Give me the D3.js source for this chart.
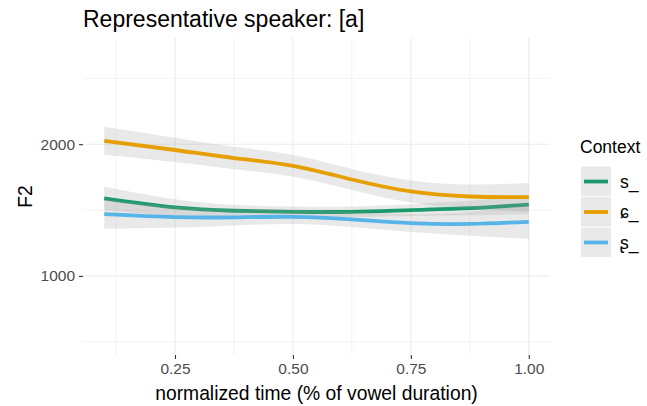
<!DOCTYPE html>
<html lang="en">
	<head>
		<meta charset="utf-8">
		<title>Representative speaker: [a]</title>
		<script type="text/javascript" src="https://d3js.org/d3.v7.min.js"></script>
		<style type="text/css">
			body { margin: 0; background: #fff; }
			text { font-family: "Liberation Sans", Arial, sans-serif; }
		</style>
	</head>
	<body>
		<script type="text/javascript">

			// normalized time points of the smoothed curves
			var times = [0.1, 0.25, 0.375, 0.5, 0.625, 0.75, 0.875, 1.0];

			// F2 of the smooth line per context
			var sVals     = [1589, 1520, 1495, 1487, 1487, 1500, 1515, 1542];
			var ccVals    = [2026, 1956, 1895, 1836, 1732, 1641, 1603, 1598];
			var retroVals = [1470, 1447, 1445, 1449, 1429, 1401, 1395, 1411];

			// half width of the confidence band
			var sSe     = [88, 62, 45, 40, 40, 45, 55, 72];
			var ccSe    = [106, 92, 85, 82, 80, 84, 92, 108];
			var retroSe = [112, 80, 62, 55, 58, 68, 90, 130];

			var contexts = ["s_", "ɕ_", "ʂ_"];
			var colors = ["#1B9B6C", "#E69F00", "#56B4E9"];

			var xTicks = [0.25, 0.5, 0.75, 1.0];
			var xMinor = [0.125, 0.375, 0.625, 0.875];
			var yTicks = [1000, 2000];
			var yMinor = [500, 1500, 2500];

			var w = 647, h = 406;
			// panel edges (note: "top" is reserved on window, so use pTop etc)
			var pLeft = 83, pRight = 550, pTop = 38, pBottom = 355;

			var xScale = d3.scaleLinear().domain([0.055, 1.045]).range([pLeft, pRight]);
			var yScale = d3.scaleLinear().domain([400, 2806]).range([pBottom, pTop]);

			var svg = d3.select("body").append("svg")
				.attr("width", w)
				.attr("height", h);

			//grid
			var grid = svg.append("g");
			grid.selectAll(".gx").data(xMinor.concat(xTicks)).enter().append("line")
				.attr("x1", function(d) { return xScale(d); })
				.attr("x2", function(d) { return xScale(d); })
				.attr("y1", pTop).attr("y2", pBottom)
				.attr("stroke", "#ebebeb")
				.attr("stroke-width", function(d) { return xTicks.indexOf(d) >= 0 ? 1.1 : 0.6; });
			grid.selectAll(".gy").data(yMinor.concat(yTicks)).enter().append("line")
				.attr("x1", pLeft).attr("x2", pRight)
				.attr("y1", function(d) { return yScale(d); })
				.attr("y2", function(d) { return yScale(d); })
				.attr("stroke", "#ebebeb")
				.attr("stroke-width", function(d) { return yTicks.indexOf(d) >= 0 ? 1.1 : 0.6; });

			//series
			var series = [
				{ name: contexts[0], vals: sVals, se: sSe, color: colors[0] },
				{ name: contexts[1], vals: ccVals, se: ccSe, color: colors[1] },
				{ name: contexts[2], vals: retroVals, se: retroSe, color: colors[2] }
			];

			var area = d3.area()
				.x(function(d) { return xScale(d.t); })
				.y0(function(d) { return yScale(d.v - d.se); })
				.y1(function(d) { return yScale(d.v + d.se); })
				.curve(d3.curveNatural);

			var line = d3.line()
				.x(function(d) { return xScale(d.t); })
				.y(function(d) { return yScale(d.v); })
				.curve(d3.curveNatural);

			series.forEach(function(s) {
				var pts = times.map(function(t, i) { return { t: t, v: s.vals[i], se: s.se[i] }; });
				svg.append("path")
					.attr("d", area(pts))
					.attr("fill", "#999999")
					.attr("fill-opacity", 0.22);
				svg.append("path")
					.attr("d", line(pts))
					.attr("fill", "none")
					.attr("stroke", s.color)
					.attr("stroke-width", 3.8);
			});

			//axes
			var xAxis = d3.axisBottom(xScale).tickValues(xTicks).tickSize(4).tickPadding(4)
				.tickFormat(d3.format(".2f"));
			var gx = svg.append("g").attr("transform", "translate(0," + pBottom + ")").call(xAxis);
			var yAxis = d3.axisLeft(yScale).tickValues(yTicks).tickSize(4).tickPadding(4)
				.tickFormat(d3.format("d"));
			var gy = svg.append("g").attr("transform", "translate(" + pLeft + ",0)").call(yAxis);
			[gx, gy].forEach(function(g) {
				g.select(".domain").remove();
				g.selectAll(".tick line").attr("stroke", "#333333").attr("stroke-width", 1.1);
				g.selectAll(".tick text")
					.attr("fill", "#4d4d4d")
					.style("font-size", "15.5px")
					.style("font-family", "Liberation Sans, Arial, sans-serif");
			});

			//titles
			svg.append("text")
				.attr("x", 83).attr("y", 27)
				.style("font-size", "23px")
				.attr("fill", "#000")
				.text("Representative speaker: [a]");

			svg.append("text")
				.attr("x", (pLeft + pRight) / 2).attr("y", 400)
				.attr("text-anchor", "middle")
				.style("font-size", "19.3px")
				.attr("fill", "#000")
				.text("normalized time (% of vowel duration)");

			svg.append("text")
				.attr("transform", "translate(32," + ((pTop + pBottom) / 2) + ") rotate(-90)")
				.attr("text-anchor", "middle")
				.style("font-size", "19.3px")
				.attr("fill", "#000")
				.text("F2");

			//legend
			var legend = svg.append("g").attr("transform", "translate(580,0)");
			legend.append("text")
				.attr("x", 0).attr("y", 153)
				.style("font-size", "17.5px")
				.attr("fill", "#000")
				.text("Context");

			var keys = legend.selectAll(".key").data(series).enter().append("g")
				.attr("transform", function(d, i) { return "translate(0," + (166 + i * 30.5) + ")"; });
			keys.append("rect")
				.attr("x", 1).attr("y", 0.5)
				.attr("width", 30).attr("height", 29.5)
				.attr("fill", "#999999")
				.attr("fill-opacity", 0.22);
			keys.append("line")
				.attr("x1", 4).attr("x2", 28)
				.attr("y1", 15.5).attr("y2", 15.5)
				.attr("stroke", function(d) { return d.color; })
				.attr("stroke-width", 3.8);
			keys.append("text")
				.attr("x", 40).attr("y", 21.5)
				.style("font-size", "17.5px")
				.attr("fill", "#000")
				.text(function(d) { return d.name; });

		</script>
	</body>
</html>
